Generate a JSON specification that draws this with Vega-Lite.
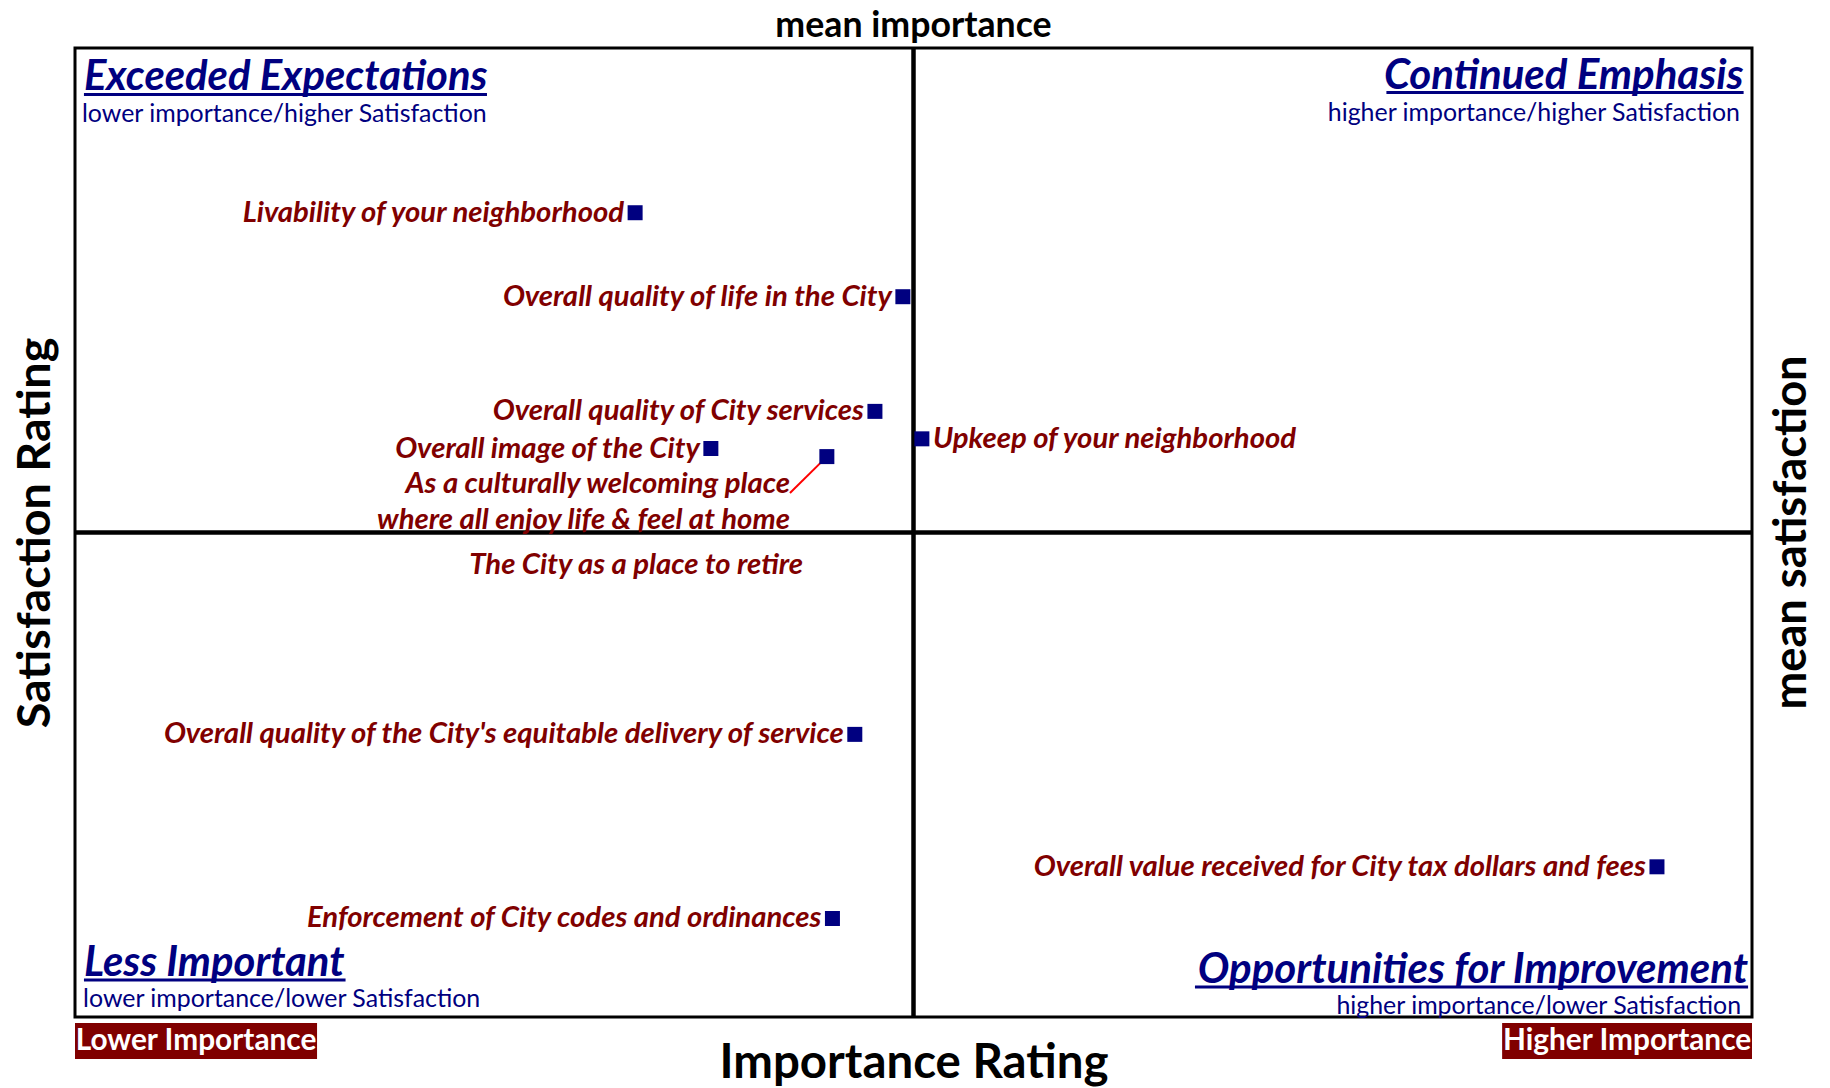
{
  "$schema": "https://vega.github.io/schema/vega-lite/v6.json",
  "usermeta": {"embedOptions": {"actions": false}},
  "autosize": "none",
  "width": 1677,
  "height": 969,
  "padding": {"left": 75, "top": 48, "right": 78, "bottom": 71},
  "background": "white",
  "config": {
    "view": {"stroke": "black", "strokeWidth": 3},
    "axis": {"labels": false, "ticks": false, "domain": false, "grid": false, "titleFont": "Lato", "titleFontWeight": "bold", "titleColor": "black"},
    "axisX": {"titleFontSize": 47.4, "titleX": 838.5, "titleY": 60, "titleBaseline": "alphabetic", "titleAlign": "center"},
    "axisY": {"titleFontSize": 46.7, "titleAngle": 270, "titleX": -26, "titleY": 484.5, "titleBaseline": "alphabetic", "titleAlign": "center"},
    "text": {"font": "Lato"}
  },
  "datasets": {
    "points": [
      {"name": "Livability of your neighborhood", "importance": 20.04, "satisfaction": 89.8},
      {"name": "Overall quality of life in the City", "importance": 29.62, "satisfaction": 84.6},
      {"name": "Overall quality of City services", "importance": 28.62, "satisfaction": 77.5},
      {"name": "Overall image of the City", "importance": 22.75, "satisfaction": 75.2},
      {"name": "As a culturally welcoming place where all enjoy life & feel at home", "importance": 26.9, "satisfaction": 74.7},
      {"name": "Upkeep of your neighborhood", "importance": 30.3, "satisfaction": 75.8},
      {"name": "Overall quality of the City's equitable delivery of service", "importance": 27.9, "satisfaction": 57.5},
      {"name": "Overall value received for City tax dollars and fees", "importance": 56.6, "satisfaction": 49.3},
      {"name": "Enforcement of City codes and ordinances", "importance": 27.1, "satisfaction": 46.1}
    ],
    "callout": [
      {"label": "As a culturally welcoming place\nwhere all enjoy life & feel at home", "importance": 25.58, "satisfaction": 72.45, "importance2": 26.9, "satisfaction2": 74.7}
    ],
    "retire": [
      {"label": "The City as a place to retire", "importance": 26.05, "satisfaction": 67.99}
    ],
    "means": [
      {"importance": 30, "satisfaction": 70}
    ],
    "quadrants": [
      {"label": "Exceeded Expectations", "kind": "title", "side": "left", "importance": 0.32, "satisfaction": 97.4},
      {"label": "lower importance/higher Satisfaction", "kind": "subtitle", "side": "left", "importance": 0.25, "satisfaction": 95.39},
      {"label": "Continued Emphasis", "kind": "title", "side": "right", "importance": 59.7, "satisfaction": 97.46},
      {"label": "higher importance/higher Satisfaction", "kind": "subtitle", "side": "right", "importance": 59.57, "satisfaction": 95.48},
      {"label": "Less Important", "kind": "title", "side": "left", "importance": 0.32, "satisfaction": 42.56},
      {"label": "lower importance/lower Satisfaction", "kind": "subtitle", "side": "left", "importance": 0.29, "satisfaction": 40.62},
      {"label": "Opportunities for Improvement", "kind": "title", "side": "right", "importance": 59.86, "satisfaction": 42.12},
      {"label": "higher importance/lower Satisfaction", "kind": "subtitle", "side": "right", "importance": 59.61, "satisfaction": 40.19}
    ],
    "underlines": [
      {"importance": 0.32, "importance2": 14.74, "satisfaction": 97.12},
      {"importance": 46.92, "importance2": 59.7, "satisfaction": 97.24},
      {"importance": 0.32, "importance2": 9.68, "satisfaction": 42.29},
      {"importance": 40.07, "importance2": 59.86, "satisfaction": 41.86}
    ],
    "ends": [
      {"label": "Lower Importance", "importance": 0, "importance2": 8.66, "importance_mid": 4.33, "satisfaction": 39.63, "satisfaction2": 37.4, "satisfaction_mid": 38.51},
      {"label": "Higher Importance", "importance": 51.06, "importance2": 60, "importance_mid": 55.53, "satisfaction": 39.63, "satisfaction2": 37.4, "satisfaction_mid": 38.51}
    ]
  },
  "layer": [
    {
      "data": {"name": "means"},
      "mark": {"type": "rule", "color": "black", "strokeWidth": 4.5},
      "encoding": {
        "x": {"field": "importance", "type": "quantitative", "scale": {"domain": [0, 60], "nice": false, "zero": false}, "title": "Importance Rating"}
      }
    },
    {
      "data": {"name": "means"},
      "mark": {"type": "rule", "color": "black", "strokeWidth": 4.5},
      "encoding": {
        "y": {"field": "satisfaction", "type": "quantitative", "scale": {"domain": [40, 100], "nice": false, "zero": false}, "title": "Satisfaction Rating"}
      }
    },
    {
      "data": {"name": "means"},
      "mark": {"type": "text", "fontSize": 35.7, "fontWeight": "bold", "color": "black", "baseline": "alphabetic", "align": "center", "dy": -11.5},
      "encoding": {
        "x": {"field": "importance", "type": "quantitative", "scale": {"domain": [0, 60], "nice": false, "zero": false}, "title": "Importance Rating"},
        "y": {"datum": 100, "type": "quantitative", "scale": {"domain": [40, 100], "nice": false, "zero": false}, "title": "Satisfaction Rating"},
        "text": {"value": "mean importance"}
      }
    },
    {
      "data": {"name": "means"},
      "mark": {"type": "text", "fontSize": 45.2, "fontWeight": "bold", "color": "black", "baseline": "alphabetic", "align": "center", "angle": 270, "dy": 54},
      "encoding": {
        "x": {"datum": 60, "type": "quantitative", "scale": {"domain": [0, 60], "nice": false, "zero": false}, "title": "Importance Rating"},
        "y": {"field": "satisfaction", "type": "quantitative", "scale": {"domain": [40, 100], "nice": false, "zero": false}, "title": "Satisfaction Rating"},
        "text": {"value": "mean satisfaction"}
      }
    },
    {
      "data": {"name": "underlines"},
      "mark": {"type": "rule", "color": "#000080", "strokeWidth": 3},
      "encoding": {
        "x": {"field": "importance", "type": "quantitative", "scale": {"domain": [0, 60], "nice": false, "zero": false}, "title": "Importance Rating"},
        "x2": {"field": "importance2"},
        "y": {"field": "satisfaction", "type": "quantitative", "scale": {"domain": [40, 100], "nice": false, "zero": false}, "title": "Satisfaction Rating"}
      }
    },
    {
      "data": {"name": "ends"},
      "mark": {"type": "rect", "color": "#800000"},
      "encoding": {
        "x": {"field": "importance", "type": "quantitative", "scale": {"domain": [0, 60], "nice": false, "zero": false}, "title": "Importance Rating"},
        "x2": {"field": "importance2"},
        "y": {"field": "satisfaction", "type": "quantitative", "scale": {"domain": [40, 100], "nice": false, "zero": false}, "title": "Satisfaction Rating"},
        "y2": {"field": "satisfaction2"}
      }
    },
    {
      "data": {"name": "ends"},
      "mark": {"type": "text", "fontSize": 29.8, "fontWeight": "bold", "color": "white", "baseline": "middle", "align": "center"},
      "encoding": {
        "x": {"field": "importance_mid", "type": "quantitative", "scale": {"domain": [0, 60], "nice": false, "zero": false}, "title": "Importance Rating"},
        "y": {"field": "satisfaction_mid", "type": "quantitative", "scale": {"domain": [40, 100], "nice": false, "zero": false}, "title": "Satisfaction Rating"},
        "text": {"field": "label"}
      }
    },
    {
      "data": {"name": "quadrants"},
      "transform": [{"filter": "datum.kind === 'title' && datum.side === 'left'"}],
      "mark": {"type": "text", "fontSize": 41.8, "fontWeight": "bold", "fontStyle": "italic", "color": "#000080", "baseline": "alphabetic", "align": "left"},
      "encoding": {
        "x": {"field": "importance", "type": "quantitative", "scale": {"domain": [0, 60], "nice": false, "zero": false}, "title": "Importance Rating"},
        "y": {"field": "satisfaction", "type": "quantitative", "scale": {"domain": [40, 100], "nice": false, "zero": false}, "title": "Satisfaction Rating"},
        "text": {"field": "label"}
      }
    },
    {
      "data": {"name": "quadrants"},
      "transform": [{"filter": "datum.kind === 'title' && datum.side === 'right'"}],
      "mark": {"type": "text", "fontSize": 42, "fontWeight": "bold", "fontStyle": "italic", "color": "#000080", "baseline": "alphabetic", "align": "right"},
      "encoding": {
        "x": {"field": "importance", "type": "quantitative", "scale": {"domain": [0, 60], "nice": false, "zero": false}, "title": "Importance Rating"},
        "y": {"field": "satisfaction", "type": "quantitative", "scale": {"domain": [40, 100], "nice": false, "zero": false}, "title": "Satisfaction Rating"},
        "text": {"field": "label"}
      }
    },
    {
      "data": {"name": "quadrants"},
      "transform": [{"filter": "datum.kind === 'subtitle' && datum.side === 'left'"}],
      "mark": {"type": "text", "fontSize": 24.9, "color": "#000080", "baseline": "alphabetic", "align": "left"},
      "encoding": {
        "x": {"field": "importance", "type": "quantitative", "scale": {"domain": [0, 60], "nice": false, "zero": false}, "title": "Importance Rating"},
        "y": {"field": "satisfaction", "type": "quantitative", "scale": {"domain": [40, 100], "nice": false, "zero": false}, "title": "Satisfaction Rating"},
        "text": {"field": "label"}
      }
    },
    {
      "data": {"name": "quadrants"},
      "transform": [{"filter": "datum.kind === 'subtitle' && datum.side === 'right'"}],
      "mark": {"type": "text", "fontSize": 24.9, "color": "#000080", "baseline": "alphabetic", "align": "right"},
      "encoding": {
        "x": {"field": "importance", "type": "quantitative", "scale": {"domain": [0, 60], "nice": false, "zero": false}, "title": "Importance Rating"},
        "y": {"field": "satisfaction", "type": "quantitative", "scale": {"domain": [40, 100], "nice": false, "zero": false}, "title": "Satisfaction Rating"},
        "text": {"field": "label"}
      }
    },
    {
      "data": {"name": "callout"},
      "mark": {"type": "rule", "color": "#FF0000", "strokeWidth": 2},
      "encoding": {
        "x": {"field": "importance", "type": "quantitative", "scale": {"domain": [0, 60], "nice": false, "zero": false}, "title": "Importance Rating"},
        "x2": {"field": "importance2"},
        "y": {"field": "satisfaction", "type": "quantitative", "scale": {"domain": [40, 100], "nice": false, "zero": false}, "title": "Satisfaction Rating"},
        "y2": {"field": "satisfaction2"}
      }
    },
    {
      "data": {"name": "callout"},
      "mark": {"type": "text", "fontSize": 29.3, "fontWeight": "bold", "fontStyle": "italic", "color": "#800000", "baseline": "alphabetic", "align": "right", "lineBreak": "\n", "lineHeight": 36},
      "encoding": {
        "x": {"field": "importance", "type": "quantitative", "scale": {"domain": [0, 60], "nice": false, "zero": false}, "title": "Importance Rating"},
        "y": {"field": "satisfaction", "type": "quantitative", "scale": {"domain": [40, 100], "nice": false, "zero": false}, "title": "Satisfaction Rating"},
        "text": {"field": "label"}
      }
    },
    {
      "data": {"name": "retire"},
      "mark": {"type": "text", "fontSize": 29.3, "fontWeight": "bold", "fontStyle": "italic", "color": "#800000", "baseline": "middle", "align": "right"},
      "encoding": {
        "x": {"field": "importance", "type": "quantitative", "scale": {"domain": [0, 60], "nice": false, "zero": false}, "title": "Importance Rating"},
        "y": {"field": "satisfaction", "type": "quantitative", "scale": {"domain": [40, 100], "nice": false, "zero": false}, "title": "Satisfaction Rating"},
        "text": {"field": "label"}
      }
    },
    {
      "data": {"name": "points"},
      "mark": {"type": "point", "shape": "square", "filled": true, "size": 225, "color": "#000080", "opacity": 1},
      "encoding": {
        "x": {"field": "importance", "type": "quantitative", "scale": {"domain": [0, 60], "nice": false, "zero": false}, "title": "Importance Rating"},
        "y": {"field": "satisfaction", "type": "quantitative", "scale": {"domain": [40, 100], "nice": false, "zero": false}, "title": "Satisfaction Rating"}
      }
    },
    {
      "data": {"name": "points"},
      "transform": [{"filter": "datum.name !== 'Upkeep of your neighborhood' && datum.name !== 'As a culturally welcoming place where all enjoy life & feel at home'"}],
      "mark": {"type": "text", "fontSize": 29.3, "fontWeight": "bold", "fontStyle": "italic", "color": "#800000", "baseline": "middle", "align": "right", "dx": -11},
      "encoding": {
        "x": {"field": "importance", "type": "quantitative", "scale": {"domain": [0, 60], "nice": false, "zero": false}, "title": "Importance Rating"},
        "y": {"field": "satisfaction", "type": "quantitative", "scale": {"domain": [40, 100], "nice": false, "zero": false}, "title": "Satisfaction Rating"},
        "text": {"field": "name"}
      }
    },
    {
      "data": {"name": "points"},
      "transform": [{"filter": "datum.name === 'Upkeep of your neighborhood'"}],
      "mark": {"type": "text", "fontSize": 29.3, "fontWeight": "bold", "fontStyle": "italic", "color": "#800000", "baseline": "middle", "align": "left", "dx": 11},
      "encoding": {
        "x": {"field": "importance", "type": "quantitative", "scale": {"domain": [0, 60], "nice": false, "zero": false}, "title": "Importance Rating"},
        "y": {"field": "satisfaction", "type": "quantitative", "scale": {"domain": [40, 100], "nice": false, "zero": false}, "title": "Satisfaction Rating"},
        "text": {"field": "name"}
      }
    }
  ]
}
